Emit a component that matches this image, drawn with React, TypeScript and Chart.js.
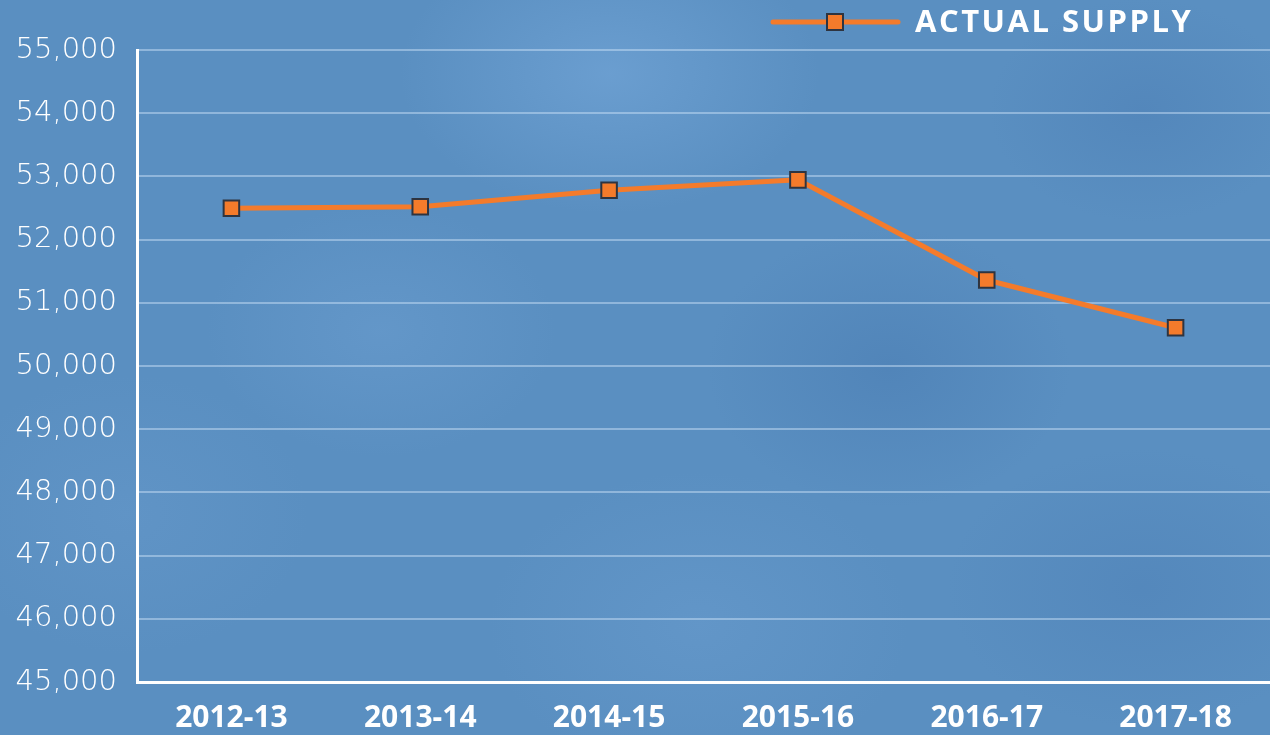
import React, { useEffect, useRef } from "react";
import { Chart, registerables } from "chart.js";

Chart.register(...registerables);

const categories = ["2012-13", "2013-14", "2014-15", "2015-16", "2016-17", "2017-18"];
const actualSupply = [52495, 52520, 52780, 52945, 51360, 50605];
const seriesLabel = "ACTUAL SUPPLY";
const yMin = 45000;
const yMax = 55000;
const yStep = 1000;

const ORANGE = "#f47b2b";
const MARKER_BORDER = "#2e3440";

const legendPlugin = {
  id: "customLegend",
  afterDraw(chart: any) {
    const ctx = chart.ctx;
    const ds = chart.data.datasets[0];
    const y = 22;
    ctx.save();
    ctx.strokeStyle = ds.borderColor;
    ctx.lineWidth = 5;
    ctx.lineCap = "round";
    ctx.beginPath();
    ctx.moveTo(773, y);
    ctx.lineTo(898, y);
    ctx.stroke();
    ctx.fillStyle = ds.pointBackgroundColor;
    ctx.strokeStyle = ds.pointBorderColor;
    ctx.lineWidth = 2;
    ctx.beginPath();
    ctx.rect(827, y - 8, 16, 16);
    ctx.fill();
    ctx.stroke();
    ctx.fillStyle = "#ffffff";
    ctx.font = "bold 31px 'Open Sans'";
    (ctx as any).letterSpacing = "2.5px";
    ctx.textBaseline = "middle";
    ctx.textAlign = "left";
    ctx.fillText(ds.label, 915, y + 1);
    (ctx as any).letterSpacing = "0px";
    ctx.restore();
  },
};

export default function App() {
  const canvasRef = useRef<HTMLCanvasElement | null>(null);

  useEffect(() => {
    const canvas = canvasRef.current;
    if (!canvas) return;
    const chart = new Chart(canvas, {
      type: "line",
      data: {
        labels: categories,
        datasets: [
          {
            label: seriesLabel,
            data: actualSupply,
            borderColor: ORANGE,
            backgroundColor: ORANGE,
            borderWidth: 5,
            pointStyle: "rect",
            pointRadius: 11,
            pointHoverRadius: 11,
            pointBackgroundColor: ORANGE,
            pointBorderColor: MARKER_BORDER,
            pointBorderWidth: 2,
            tension: 0,
            clip: false,
          },
        ],
      },
      options: {
        animation: false,
        responsive: false,
        maintainAspectRatio: false,
        layout: { autoPadding: false, padding: { top: 50, right: 0, left: 0, bottom: 0 } },
        plugins: {
          legend: { display: false },
          tooltip: { enabled: false },
        },
        scales: {
          x: {
            offset: true,
            grid: { display: false, drawTicks: false },
            border: { display: true, color: "#ffffff", width: 3 },
            ticks: {
              color: "#ffffff",
              font: { family: "'Open Sans'", size: 30, weight: "bold" },
              padding: 18,
              maxRotation: 0,
              autoSkip: false,
            },
            afterFit(scale: any) {
              scale.height = 53;
              scale.paddingLeft = 0;
              scale.paddingRight = 0;
            },
          },
          y: {
            min: yMin,
            max: yMax,
            grid: {
              color: "rgba(210,230,250,0.45)",
              lineWidth: 2,
              drawTicks: false,
            },
            border: { display: true, color: "#ffffff", width: 3 },
            ticks: {
              stepSize: yStep,
              color: "#ffffff",
              font: { family: "'DejaVu Sans'", size: 29, weight: "200" },
              padding: 20,
              callback: (v: any) => Number(v).toLocaleString("en-US"),
            },
            afterFit(scale: any) {
              scale.width = 137;
            },
          },
        },
      },
      plugins: [legendPlugin],
    });
    return () => chart.destroy();
  }, []);

  return (
    <div
      style={{
        position: "fixed",
        left: 0,
        top: 0,
        width: 1270,
        height: 735,
        background:
          "radial-gradient(ellipse 300px 200px at 48% 10%, rgba(120,170,220,0.55), transparent 70%)," +
          "radial-gradient(ellipse 250px 180px at 30% 45%, rgba(110,160,210,0.45), transparent 70%)," +
          "radial-gradient(ellipse 260px 200px at 70% 50%, rgba(70,120,175,0.45), transparent 70%)," +
          "radial-gradient(ellipse 300px 220px at 55% 85%, rgba(110,160,210,0.4), transparent 70%)," +
          "radial-gradient(ellipse 260px 200px at 10% 70%, rgba(105,155,205,0.4), transparent 70%)," +
          "radial-gradient(ellipse 280px 200px at 90% 80%, rgba(75,125,180,0.4), transparent 70%)," +
          "radial-gradient(ellipse 220px 160px at 90% 15%, rgba(75,125,180,0.45), transparent 70%)," +
          "#5a8fc1",
      }}
    >
      <canvas ref={canvasRef} width={1270} height={735} style={{ display: "block" }} />
    </div>
  );
}
